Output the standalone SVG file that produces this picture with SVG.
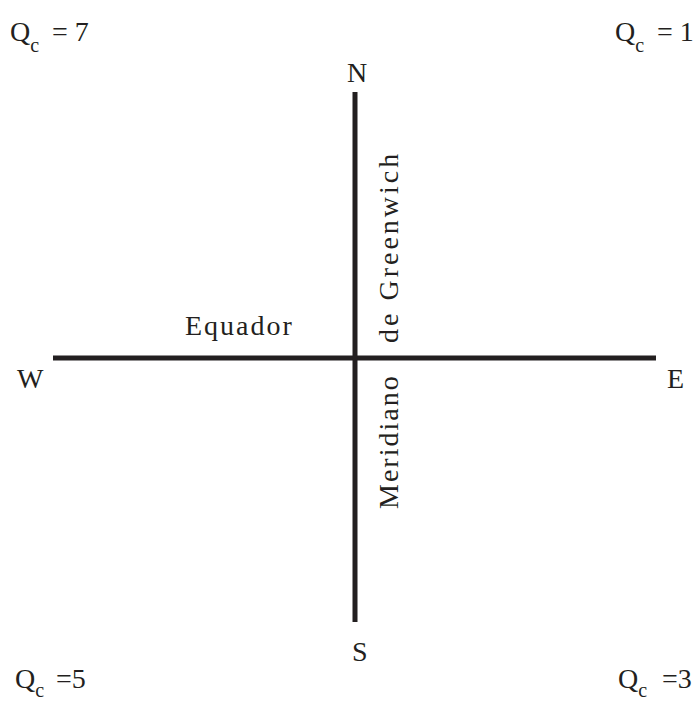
<svg xmlns="http://www.w3.org/2000/svg" width="700" height="702" viewBox="0 0 700 702">
<style>
text{font-family:"Liberation Serif","Times New Roman",serif;fill:#231f20;font-size:28px}
.sp{letter-spacing:2px}
.sp3{letter-spacing:3px}
.sub{font-size:20px}
.ax{stroke:#231f20;stroke-width:5;fill:none}
</style>
<rect width="700" height="702" fill="#fff"/>
<g id="connectors">
<line class="ax" x1="53" y1="358" x2="656" y2="358"/>
<line class="ax" x1="355" y1="92" x2="355" y2="622"/>
</g>
<g id="north"><text x="347" y="82">N</text></g>
<g id="south"><text x="352" y="661">S</text></g>
<g id="west"><text x="17" y="388">W</text></g>
<g id="east"><text x="667" y="388">E</text></g>
<g id="equador"><text class="sp" x="185" y="335">Equador</text></g>
<g id="greenwich"><text class="sp3" transform="translate(398,343) rotate(-90)">de Greenwich</text></g>
<g id="meridiano"><text class="sp" transform="translate(398,509) rotate(-90)">Meridiano</text></g>
<g id="q7"><text x="10" y="41">Q<tspan class="sub" dy="11">c</tspan><tspan dy="-11" x="52">= 7</tspan></text></g>
<g id="q1"><text x="615" y="41">Q<tspan class="sub" dy="11">c</tspan><tspan dy="-11" x="657">= 1</tspan></text></g>
<g id="q5"><text x="15" y="688">Q<tspan class="sub" dy="9">c</tspan><tspan dy="-9" x="56">=5</tspan></text></g>
<g id="q3"><text x="618" y="688">Q<tspan class="sub" dy="9">c</tspan><tspan dy="-9" x="662">=3</tspan></text></g>
</svg>
